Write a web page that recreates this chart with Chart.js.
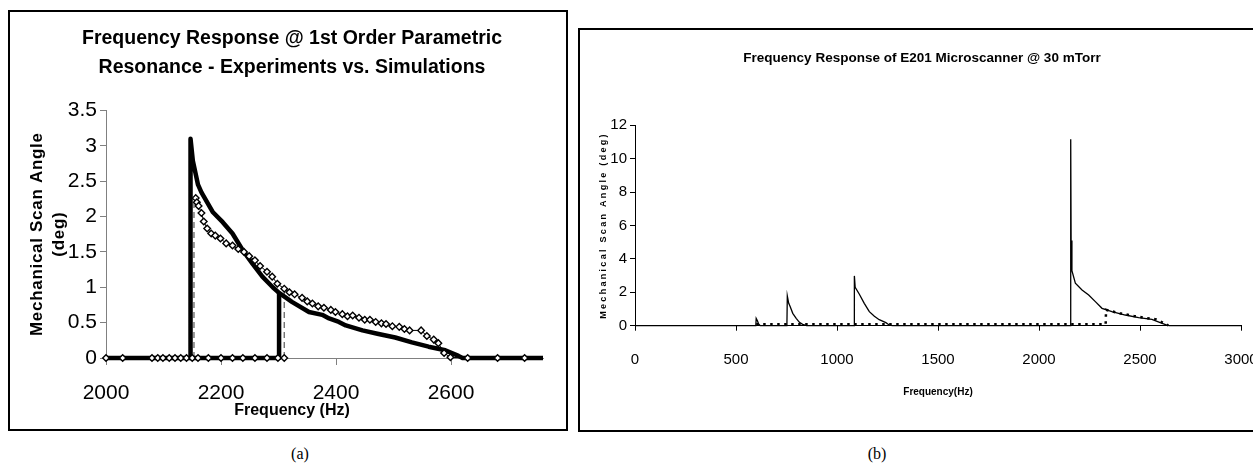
<!DOCTYPE html>
<html>
<head>
<meta charset="utf-8">
<script src="https://cdn.jsdelivr.net/npm/chart.js@4.4.1/dist/chart.umd.min.js"></script>
<style>
  body { margin: 0; background: #fff; width: 1253px; height: 465px; overflow: hidden; position: relative; }
  .box { position: absolute; border: 2px solid #000; box-sizing: border-box; background: #fff; overflow: hidden; }
  #boxA { left: 8px; top: 10px; width: 560px; height: 421px; }
  #boxB { left: 578px; top: 28px; width: 740px; height: 404px; }
  .cap { position: absolute; top: 445px; width: 40px; text-align: center; font: 16px 'Liberation Serif', 'Times New Roman', serif; color: #000; }
</style>
</head>
<body>
<div class="box" id="boxA"><canvas id="chartA" width="556" height="417"></canvas></div>
<div class="box" id="boxB"><canvas id="chartB" width="736" height="400"></canvas></div>
<div class="cap" style="left:280px">(a)</div>
<div class="cap" style="left:857px">(b)</div>
<script>
// (a) experiments: upper branch after the jump, and the zero points
const expUpFreq = [2156, 2158, 2161, 2166, 2170, 2176, 2183, 2190, 2199, 2209, 2220, 2230, 2240, 2249, 2259, 2268, 2280, 2289, 2298, 2310,
  2319, 2328, 2341, 2350, 2359, 2369, 2379, 2391, 2399, 2411, 2420, 2429, 2440, 2450, 2459, 2469, 2479, 2487, 2498, 2510,
  2519, 2528, 2548, 2558, 2570, 2578, 2588, 2599, 2629, 2681, 2728];
const expUpAngle = [2.26, 2.20, 2.15, 2.05, 1.93, 1.83, 1.76, 1.73, 1.69, 1.62, 1.59, 1.54, 1.50, 1.44, 1.38, 1.30, 1.22, 1.15, 1.05, 0.98,
  0.93, 0.90, 0.85, 0.80, 0.77, 0.73, 0.71, 0.68, 0.65, 0.62, 0.59, 0.60, 0.57, 0.54, 0.54, 0.51, 0.49, 0.48, 0.45, 0.44,
  0.41, 0.39, 0.39, 0.31, 0.26, 0.21, 0.07, 0.01, 0, 0, 0];
const expLowFreq = [2000, 2029, 2080, 2090, 2099, 2110, 2120, 2130, 2140, 2150, 2160, 2178, 2200, 2220, 2238, 2259, 2280, 2299, 2310];
const expLowAngle = [0, 0, 0, 0, 0, 0, 0, 0, 0, 0, 0, 0, 0, 0, 0, 0, 0, 0, 0];
// jumps seen in the experiment (dashed)
const jumpUpFreq = [2153, 2153];
const jumpUpAngle = [0, 2.24];
const jumpDownFreq = [2310, 2310];
const jumpDownAngle = [0, 0.98];

// (a) simulation
const simUpFreq = [2000, 2147, 2147, 2151, 2160, 2166, 2186, 2203, 2220, 2238, 2255, 2272, 2290, 2301, 2324, 2353, 2376, 2388, 2405, 2417,
  2446, 2474, 2503, 2532, 2561, 2590, 2613, 2620, 2760];
const simUpAngle = [0, 0, 3.10, 2.79, 2.45, 2.34, 2.06, 1.92, 1.76, 1.52, 1.33, 1.15, 1.00, 0.92, 0.79, 0.65, 0.61, 0.56, 0.51, 0.46,
  0.39, 0.34, 0.29, 0.22, 0.16, 0.11, 0.03, 0, 0];
const simDownFreq = [2147, 2301, 2301];
const simDownAngle = [0, 0, 0.92];

// (b) E201 microscanner @ 30 mTorr
const scanFreq = [0, 598, 600, 606, 612, 620, 752, 754, 761, 768, 781, 798, 814, 830, 850, 1085, 1086, 1090, 1110, 1135, 1160, 1185,
  1209, 1242, 1260, 1275, 2156, 2157, 2159, 2163, 2180, 2213, 2246, 2279, 2312, 2361, 2427, 2493, 2559, 2600, 2633, 2645, 3000];
const scanAngle = [0, 0, 0.44, 0.30, 0.10, 0, 0, 1.78, 1.34, 1.15, 0.74, 0.44, 0.20, 0.08, 0, 0, 2.98, 2.30, 1.90, 1.34, 0.84, 0.56,
  0.36, 0.18, 0.03, 0, 0, 11.16, 5.10, 3.30, 2.54, 2.14, 1.84, 1.44, 1.04, 0.84, 0.64, 0.48, 0.38, 0.18, 0.04, 0, 0];
const sweepFreq = [600, 2330, 2332, 2400, 2470, 2530, 2580, 2610, 2640];
const sweepAngle = [0.08, 0.08, 0.95, 0.74, 0.58, 0.46, 0.38, 0.20, 0.02];

const ticksA_x = [2000, 2200, 2400, 2600];

const SANS = "'Liberation Sans', Arial, sans-serif";

const pts = (xs, ys) => xs.map((x, i) => ({ x: x, y: ys[i] }));

// y axis titles are letter-spaced in the original
const spacedAxisTitle = {
  id: 'spacedAxisTitle',
  beforeDraw(chart, args, opts) {
    const s = chart.scales.y;
    if (!s || s.$spaced) return;
    const orig = s.drawTitle;
    s.drawTitle = function () {
      this.ctx.save();
      this.ctx.letterSpacing = opts.spacing || '0px';
      orig.call(this);
      this.ctx.restore();
    };
    s.$spaced = true;
  }
};

const diamond = {
  borderColor: '#000', borderWidth: 1, pointStyle: 'rectRot', pointRadius: 3.3,
  pointBackgroundColor: '#fff', pointBorderColor: '#000', pointBorderWidth: 1.4, clip: false
};
const thick = { borderColor: '#000', borderWidth: 4.5, pointRadius: 0, clip: false, borderJoinStyle: 'round' };
const dashed = { borderColor: '#666', borderWidth: 1.3, borderDash: [6, 4], pointRadius: 0, clip: false };

new Chart(document.getElementById('chartA'), {
  type: 'line',
  data: {
    datasets: [
      Object.assign({ data: pts(expUpFreq, expUpAngle) }, diamond),
      Object.assign({ data: pts(expLowFreq, expLowAngle) }, diamond),
      Object.assign({ data: pts(simUpFreq, simUpAngle) }, thick),
      Object.assign({ data: pts(simDownFreq, simDownAngle) }, thick),
      Object.assign({ data: pts(jumpUpFreq, jumpUpAngle) }, dashed),
      Object.assign({ data: pts(jumpDownFreq, jumpDownAngle) }, dashed)
    ]
  },
  options: {
    responsive: false,
    animation: false,
    layout: { padding: { left: 31, right: 23, top: 0, bottom: 0 } },
    plugins: {
      legend: { display: false },
      tooltip: { enabled: false },
      title: {
        display: true,
        text: ['Frequency Response @ 1st Order Parametric', 'Resonance - Experiments vs. Simulations'],
        color: '#000',
        font: { family: SANS, size: 19.5, weight: 'bold', lineHeight: 1.5 },
        padding: { top: 11.5, bottom: 28.4 }
      },
      subtitle: {
        display: true,
        position: 'bottom',
        text: 'Frequency (Hz)',
        color: '#000',
        font: { family: SANS, size: 16, weight: 'bold', lineHeight: 1.2 },
        padding: { top: 0, bottom: 8.4 }
      },
      spacedAxisTitle: { spacing: '0.7px' }
    },
    scales: {
      x: {
        type: 'linear', min: 2000, max: 2760,
        afterBuildTicks: s => { s.ticks = ticksA_x.map(v => ({ value: v })); },
        afterFit: s => { s.height = 43.4; },
        ticks: { color: '#000', font: { family: SANS, size: 21 }, padding: 16, maxRotation: 0, callback: v => String(v) },
        grid: { drawOnChartArea: false, drawTicks: true, tickLength: 7, color: '#808080' },
        border: { color: '#808080', width: 1 }
      },
      y: {
        type: 'linear', min: 0, max: 3.5,
        afterFit: s => { s.width = 65; },
        ticks: { stepSize: 0.5, color: '#000', font: { family: SANS, size: 21 }, padding: 3, callback: v => String(v) },
        grid: { drawOnChartArea: false, drawTicks: true, tickLength: 6, color: '#808080' },
        border: { color: '#808080', width: 1 },
        title: {
          display: true,
          text: ['Mechanical Scan Angle', '(deg)'],
          color: '#000',
          font: { family: SANS, size: 17, weight: 'bold', lineHeight: 1.3 },
          padding: { top: -14.5, bottom: 0 }
        }
      }
    }
  },
  plugins: [spacedAxisTitle]
});

// chart area of (b) must end at x = 661 inside the canvas: canvas is 736 wide
new Chart(document.getElementById('chartB'), {
  type: 'line',
  data: {
    datasets: [
      { data: pts(scanFreq, scanAngle), borderColor: '#000', borderWidth: 1.3, pointRadius: 0, clip: false },
      { data: pts(sweepFreq, sweepAngle), borderColor: '#000', borderWidth: 2.5, borderDash: [2.5, 4.5], pointRadius: 0, clip: false }
    ]
  },
  options: {
    responsive: false,
    animation: false,
    layout: { padding: { left: 23, right: 75, top: 0, bottom: 0 } },
    plugins: {
      legend: { display: false },
      tooltip: { enabled: false },
      title: {
        display: true,
        text: 'Frequency Response of E201 Microscanner @ 30 mTorr',
        color: '#000',
        font: { family: SANS, size: 13.5, weight: 'bold', lineHeight: 1.2 },
        padding: { top: 19.9, bottom: 59.1 }
      },
      spacedAxisTitle: { spacing: '2.3px' }
    },
    scales: {
      x: {
        type: 'linear', min: 0, max: 3000,
        afterFit: s => { s.height = 104.3; },
        ticks: { stepSize: 500, color: '#000', font: { family: SANS, size: 15 }, padding: 20.5, maxRotation: 0, callback: v => String(v) },
        grid: { drawOnChartArea: false, drawTicks: true, tickLength: 5, color: '#000' },
        border: { color: '#000', width: 1 },
        title: {
          display: true,
          text: 'Frequency(Hz)',
          color: '#000',
          font: { family: SANS, size: 10, weight: 'bold', lineHeight: 1.2 },
          padding: { top: 0, bottom: 32 }
        }
      },
      y: {
        type: 'linear', min: 0, max: 12,
        afterFit: s => { s.width = 32; },
        ticks: { stepSize: 2, color: '#000', font: { family: SANS, size: 15 }, padding: 3, callback: v => String(v) },
        grid: { drawOnChartArea: false, drawTicks: true, tickLength: 5, color: '#000' },
        border: { color: '#000', width: 1 },
        title: {
          display: true,
          text: 'Mechanical Scan Angle (deg)',
          color: '#000',
          font: { family: SANS, size: 9, weight: 'bold', lineHeight: 1.2 },
          padding: { top: -4.4, bottom: 0 }
        }
      }
    }
  },
  plugins: [spacedAxisTitle]
});
</script>
</body>
</html>
